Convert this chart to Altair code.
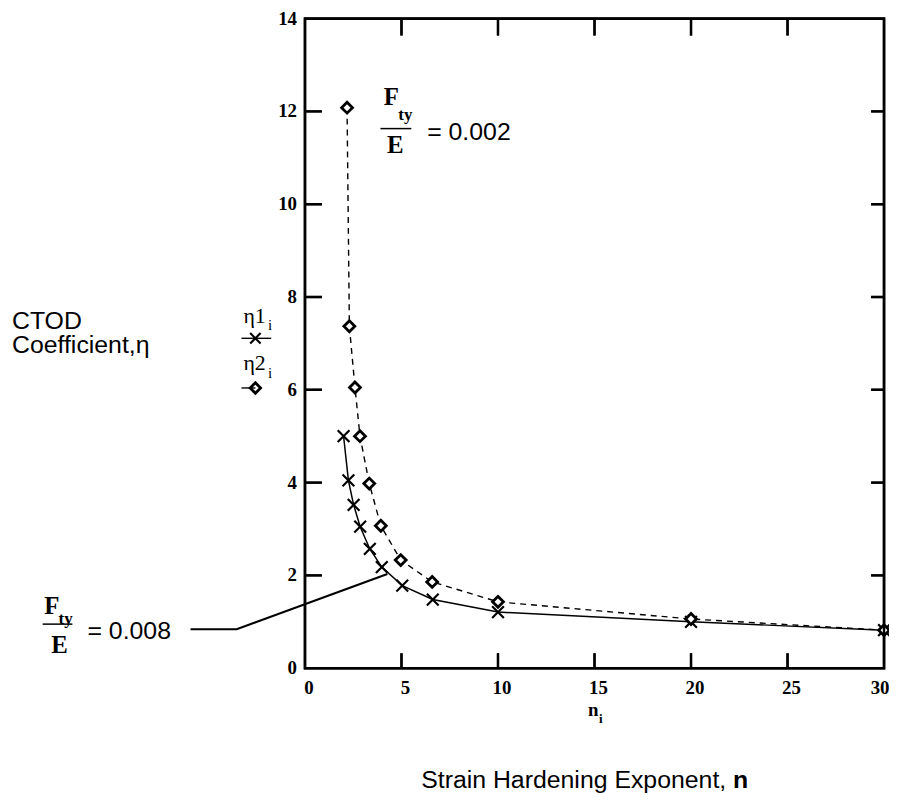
import altair as alt
import pandas as pd

# ---- data ----
n_eta1 = [2.0, 2.25, 2.52, 2.86, 3.36, 3.98, 5.04, 6.62, 10, 20, 30]
eta1 = [5.0, 4.05, 3.52, 3.05, 2.57, 2.18, 1.78, 1.48, 1.21, 1.0, 0.82]
n_eta2 = [2.18, 2.30, 2.59, 2.85, 3.33, 3.93, 4.96, 6.59, 10, 20, 30]
eta2 = [12.08, 7.37, 6.05, 5.0, 3.98, 3.07, 2.33, 1.86, 1.43, 1.06, 0.82]

x_ticks = [0, 5, 10, 15, 20, 25, 30]
y_ticks = [0, 2, 4, 6, 8, 10, 12, 14]

# annotation leader line for Fty/E = 0.008 (data coords)
lead_x = [-5.93, -3.54, 4.27]
lead_y = [0.84, 0.84, 2.03]

W, H = 583, 654
XS = alt.Scale(domain=[0, 30], nice=False, zero=False)
YS = alt.Scale(domain=[0, 14], nice=False, zero=False)
PX = 30 / W
PY = 14 / H

CROSS = "M-1,-1L1,1M1,-1L-1,1"
SERIF = "Liberation Serif"
SANS = "Liberation Sans"

d1 = pd.DataFrame({"n": n_eta1, "eta": eta1})
d2 = pd.DataFrame({"n": n_eta2, "eta": eta2})


def X(f):
    return alt.X(f, scale=XS, axis=None)


def Y(f):
    return alt.Y(f, scale=YS, axis=None)


line1 = alt.Chart(d1).mark_line(color="black", strokeWidth=1.5).encode(
    x=X("n:Q"), y=Y("eta:Q"), order="n:Q")
line2 = alt.Chart(d2).mark_line(color="black", strokeWidth=1.4, strokeDash=[6, 5]).encode(
    x=X("n:Q"), y=Y("eta:Q"), order="n:Q")
pts1 = alt.Chart(d1).mark_point(shape=CROSS, filled=False, color="black", strokeWidth=2.2,
                                size=140, opacity=1).encode(x=X("n:Q"), y=Y("eta:Q"))
pts2 = alt.Chart(d2).mark_point(shape="diamond", filled=True, fill="white", stroke="black",
                                strokeWidth=2.8, size=120, opacity=1).encode(x=X("n:Q"), y=Y("eta:Q"))

# ---- frame drawn as one closed path with inward tick spikes ----
LB, LT, LL, LR = 15 * PY, 17 * PY, 17 * PX, 13 * PX
path = [(0.0, 0.0)]
for v in x_ticks[1:-1]:                      # bottom edge, spikes upward
    path += [(v, 0.0), (v, LB), (v, 0.0)]
path.append((30.0, 0.0))
for v in y_ticks[1:-1]:                      # right edge, spikes leftward
    path += [(30.0, v), (30.0 - LR, v), (30.0, v)]
path.append((30.0, 14.0))
for v in reversed(x_ticks[1:-1]):            # top edge, spikes downward
    path += [(v, 14.0), (v, 14.0 - LT), (v, 14.0)]
path.append((0.0, 14.0))
for v in reversed(y_ticks[1:-1]):            # left edge, spikes rightward
    path += [(0.0, v), (LL, v), (0.0, v)]
path.append((0.0, 0.0))
frame_df = pd.DataFrame({"x": [p[0] for p in path], "y": [p[1] for p in path],
                         "o": list(range(len(path)))})
frame = alt.Chart(frame_df).mark_line(color="black", strokeWidth=2.4, clip=False,
                                      strokeJoin="miter", strokeCap="square").encode(
    x=X("x:Q"), y=Y("y:Q"), order="o:Q")

# the same ticks again as thin filled rectangles
tw_x = 1.1 * PX
tw_y = 1.1 * PY
rows = []
for v in x_ticks[1:-1]:
    rows.append({"a": v - tw_x, "b": v + tw_x, "c": 0.0, "d": LB})
    rows.append({"a": v - tw_x, "b": v + tw_x, "c": 14.0, "d": 14 - LT})
for v in y_ticks[1:-1]:
    rows.append({"a": 0.0, "b": LL, "c": v - tw_y, "d": v + tw_y})
    rows.append({"a": 30.0, "b": 30 - LR, "c": v - tw_y, "d": v + tw_y})
ticks = alt.Chart(pd.DataFrame(rows)).mark_rect(color="black", clip=False).encode(
    x=X("a:Q"), x2="b:Q", y=Y("c:Q"), y2="d:Q")

# tick labels as text
xl = pd.DataFrame({"v": x_ticks[:-1], "y0": -20 * PY, "t": [str(v) for v in x_ticks[:-1]]})
xl_last = pd.DataFrame({"v": x_ticks[-1:], "y0": -20 * PY, "t": [str(v) for v in x_ticks[-1:]]})
yl = pd.DataFrame({"v": y_ticks, "x0": -8 * PX, "t": [str(v) for v in y_ticks]})
lab_style = dict(font=SERIF, fontSize=19, fontWeight="bold", color="black",
                 baseline="middle", clip=False)
xlabels = alt.Chart(xl).mark_text(align="center", dx=4, **lab_style).encode(
    x=X("v:Q"), y=Y("y0:Q"), text="t:N")
xlabel_last = alt.Chart(xl_last).mark_text(align="center", dx=-4, **lab_style).encode(
    x=X("v:Q"), y=Y("y0:Q"), text="t:N")
ylabels = alt.Chart(yl).mark_text(align="right", **lab_style).encode(
    x=X("x0:Q"), y=Y("v:Q"), text="t:N")

lead = alt.Chart(pd.DataFrame({"x": lead_x, "y": lead_y, "o": [0, 1, 2]})).mark_line(
    color="black", strokeWidth=2, clip=False).encode(x=X("x:Q"), y=Y("y:Q"), order="o:Q")


def txt(s, x, y, font=SANS, size=24, weight="normal", align="left"):
    return alt.Chart(pd.DataFrame({"x": [x], "y": [y], "t": [s]})).mark_text(
        font=font, fontSize=size, fontWeight=weight, align=align, baseline="middle",
        color="black", clip=False).encode(x=X("x:Q"), y=Y("y:Q"), text="t:N")


def seg(x1, x2, y, w=1.5):
    return alt.Chart(pd.DataFrame({"x": [x1], "x2": [x2], "y": [y]})).mark_rule(
        color="black", strokeWidth=w, clip=False).encode(x=X("x:Q"), x2="x2:Q", y=Y("y:Q"))


annots = [
    txt("F", 4.48, 12.31, SERIF, 25, "bold", "center"),
    txt("ty", 5.20, 11.92, SERIF, 17, "bold", "center"),
    seg(3.91, 5.51, 11.63, 1.5),
    txt("E", 4.68, 11.28, SERIF, 25, "bold", "center"),
    txt("= 0.002", 6.33, 11.56, SANS, 25),
    txt("F", -13.12, 1.33, SERIF, 25, "bold", "center"),
    txt("ty", -12.40, 1.05, SERIF, 17, "bold", "center"),
    seg(-13.59, -12.05, 0.95, 1.5),
    txt("E", -12.71, 0.49, SERIF, 25, "bold", "center"),
    txt("= 0.008", -11.27, 0.79, SANS, 25),
    txt("CTOD", -15.18, 7.49, SANS, 25),
    txt("Coefficient,\u03b7", -15.18, 6.96, SANS, 25),
    txt("\u03b71", -3.19, 7.60, SERIF, 22),
    txt("i", -1.92, 7.40, SERIF, 15),
    seg(-3.29, -1.75, 7.11, 1.4),
    txt("\u03b72", -3.19, 6.57, SERIF, 22),
    txt("i", -1.92, 6.36, SERIF, 15),
    seg(-3.29, -2.57, 6.04, 1.4),
    txt("n", 14.93, -0.90, SERIF, 19, "bold", "center"),
    txt("i", 15.32, -1.10, SERIF, 13, "bold", "center"),
    txt("Strain Hardening Exponent,", 6.02, -2.40, SANS, 25),
    txt("n", 22.18, -2.40, SANS, 25, "bold"),
]

leg_cross = alt.Chart(pd.DataFrame({"x": [-2.57], "y": [7.11]})).mark_point(
    shape=CROSS, filled=False, color="black", strokeWidth=2.2, size=110, opacity=1,
    clip=False).encode(x=X("x:Q"), y=Y("y:Q"))
leg_dia = alt.Chart(pd.DataFrame({"x": [-2.57], "y": [6.04]})).mark_point(
    shape="diamond", filled=True, fill="white", stroke="black", strokeWidth=2.8,
    size=110, opacity=1, clip=False).encode(x=X("x:Q"), y=Y("y:Q"))

chart = alt.layer(
    line1, line2, lead,
    pts1, pts2, leg_cross, leg_dia,
    xlabels, xlabel_last, ylabels, *annots, ticks, frame
).properties(
    width=W, height=H,
    autosize=alt.AutoSizeParams(type="none"),
    padding={"left": 299, "top": 8, "right": 5, "bottom": 130},
    background="white",
).configure_view(
    stroke="black", strokeWidth=2.6
)

chart.save("out.html", embed_options={"renderer": "svg", "actions": False})
